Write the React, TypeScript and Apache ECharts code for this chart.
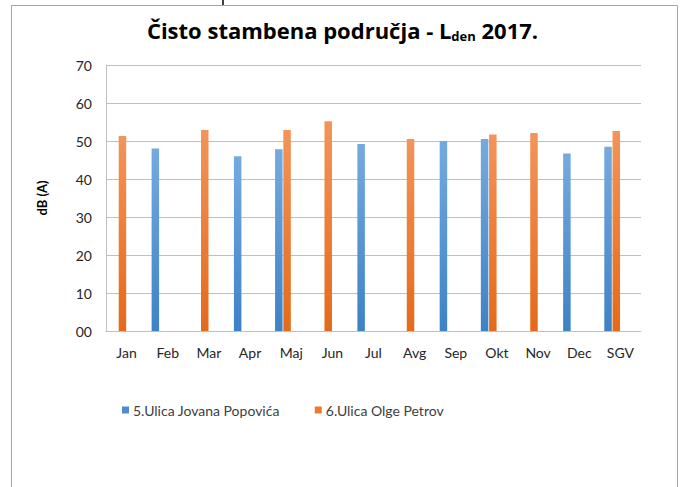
import React, { useEffect, useRef } from "react";
import * as echarts from "echarts";

const categories = ["Jan", "Feb", "Mar", "Apr", "Maj", "Jun", "Jul", "Avg", "Sep", "Okt", "Nov", "Dec", "SGV"];
const seriesNames = ["5.Ulica Jovana Popovića", "6.Ulica Olge Petrov"];
const jovanaPopovica = [null, 48.0, null, 46.0, 47.8, null, 49.2, null, 50.0, 50.5, null, 46.7, 48.5];
const olgePetrov = [51.3, null, 52.9, null, 52.9, 55.2, null, 50.5, null, 51.7, 52.1, null, 52.6];
const emptySeries = [null, null, null, null, null, null, null, null, null, null, null, null, null];
const yTicks = { min: 0, max: 70, interval: 10 };

const FONT = "Lato, 'Open Sans', sans-serif";
const TITLE_FONT = "'Open Sans', Lato, sans-serif";

export default function App() {
  const ref = useRef<HTMLDivElement>(null);

  useEffect(() => {
    document.body.style.margin = "0";
    if (!ref.current) return;
    const chart = echarts.init(ref.current, undefined, { renderer: "svg" });

    const blueGrad = new echarts.graphic.LinearGradient(0, 0, 0, 1, [
      { offset: 0, color: "#75aadf" },
      { offset: 1, color: "#3d82c6" },
    ]);
    const orangeGrad = new echarts.graphic.LinearGradient(0, 0, 0, 1, [
      { offset: 0, color: "#f39459" },
      { offset: 1, color: "#e46a19" },
    ]);

    const barCommon = {
      type: "bar" as const,
      barWidth: 7.5,
      barGap: "10%",
    };

    chart.setOption({
      animation: false,
      backgroundColor: "#ffffff",
      title: {
        text: "{m|Čisto stambena područja - L}{s|den}{m| 2017.}",
        left: "center",
        top: 13,
        textStyle: {
          rich: {
            m: { fontFamily: TITLE_FONT, fontWeight: "bold", fontSize: 22, color: "#000000" },
            s: { fontFamily: TITLE_FONT, fontWeight: "bold", fontSize: 13, color: "#000000", verticalAlign: "bottom", padding: [11, 0, 0, 0] },
          },
        },
      },
      grid: { left: 106, right: 44, top: 65, bottom: 156 },
      legend: {
        data: [
          { name: seriesNames[0], itemStyle: { color: "#4a8dd0" } },
          { name: seriesNames[1], itemStyle: { color: "#ec7a2e" } },
        ],
        left: 117,
        top: 398,
        icon: "rect",
        itemWidth: 7,
        itemHeight: 7,
        itemGap: 35,
        textStyle: { fontFamily: FONT, fontSize: 14, color: "#404040", padding: [0, 0, 0, -1] },
      },
      xAxis: {
        type: "category",
        data: categories,
        axisLine: { lineStyle: { color: "#bfbfbf" } },
        axisTick: { show: false },
        axisLabel: { fontFamily: FONT, fontSize: 14, color: "#262626", margin: 14, interval: 0 },
      },
      yAxis: {
        type: "value",
        min: yTicks.min,
        max: yTicks.max,
        interval: yTicks.interval,
        name: "dB (A)",
        nameLocation: "middle",
        nameGap: 58,
        nameTextStyle: { fontFamily: FONT, fontSize: 13, fontWeight: "bold", color: "#000000" },
        axisLine: { show: true, lineStyle: { color: "#bfbfbf" } },
        axisTick: { show: false },
        splitLine: { lineStyle: { color: "#bfbfbf" } },
        axisLabel: {
          fontFamily: FONT,
          fontSize: 14,
          color: "#262626",
          margin: 14,
          formatter: (v: number) => (v === 0 ? "00" : String(v)),
        },
      },
      series: [
        { ...barCommon, name: seriesNames[0], data: jovanaPopovica, itemStyle: { color: blueGrad } },
        { ...barCommon, name: seriesNames[1], data: olgePetrov, itemStyle: { color: orangeGrad } },
        { ...barCommon, name: "s3", data: emptySeries },
        { ...barCommon, name: "s4", data: emptySeries },
      ],
      graphic: [
        {
          type: "rect",
          shape: { x: 11.5, y: 5.5, width: 666, height: 500 },
          style: { fill: "none", stroke: "#a6a6a6", lineWidth: 1 },
          z: -1,
        },
        {
          type: "line",
          shape: { x1: 223, y1: 0, x2: 223, y2: 5 },
          style: { stroke: "#000000", lineWidth: 1.5 },
        },
      ],
    });

    return () => chart.dispose();
  }, []);

  return <div ref={ref} style={{ width: 685, height: 487 }} />;
}
